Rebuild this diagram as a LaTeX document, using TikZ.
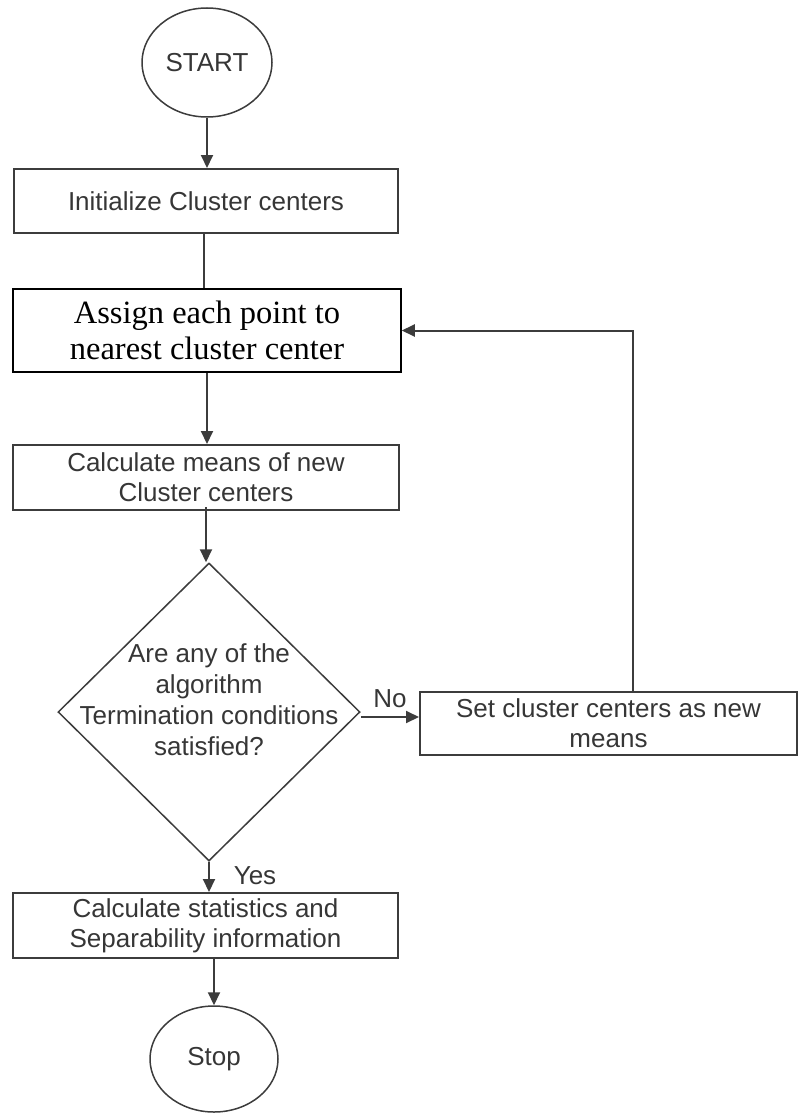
\documentclass[tikz,border=0pt]{standalone}
\usepackage{fontspec}
\setmainfont{Liberation Sans}
\newfontfamily\timesfont{Liberation Serif}
\usetikzlibrary{shapes.geometric,arrows.meta}
\definecolor{inkgray}{HTML}{363636}
\definecolor{linegray}{HTML}{3C3C3C}
\tikzset{
  every node/.style={font=\fontsize{26}{30}\selectfont, text=inkgray},
  procbox/.style={draw=linegray, line width=2pt, rectangle, inner sep=0pt, align=center},
  assignbox/.style={draw=black, line width=1.5pt, rectangle, inner sep=0pt, align=center,
                    text=black, font=\timesfont\fontsize{32.5}{36}\selectfont},
  terminal/.style={draw=linegray, line width=1.5pt, ellipse, inner sep=0pt},
  decision/.style={draw=linegray, line width=1.5pt, diamond, inner sep=0pt},
  conn/.style={draw=linegray, line width=2pt},
  arr/.style={conn, -{Triangle[length=13pt,width=12pt]}},
  lbl/.style={inner sep=0pt}
}
\begin{document}
\begin{tikzpicture}[x=1pt,y=-1pt]
\useasboundingbox (0,0) rectangle (798,1113);
\node[terminal, minimum width=130pt, minimum height=109pt] (start) at (207,62.5) {START};
\node[procbox, minimum width=384pt, minimum height=64pt] (init) at (206,201) {Initialize Cluster centers};
\node[assignbox, minimum width=388pt, minimum height=83pt] (assign) at (207,330.5) {Assign each point to\\nearest cluster center};
\node[procbox, minimum width=386pt, minimum height=65pt] (calc) at (206,477.5) {Calculate means of new\\Cluster centers};
\node[decision, minimum width=302pt, minimum height=298pt] (dec) at (209,712) {};
\node[lbl, align=center, font=\fontsize{26}{31}\selectfont] (dectext) at (209,700) {Are any of the\\algorithm\\Termination conditions\\satisfied?};
\node[procbox, minimum width=377pt, minimum height=63pt] (set) at (608.5,723.5) {Set cluster centers as new\\means};
\node[procbox, minimum width=385pt, minimum height=65pt] (stats) at (205.5,925.5) {Calculate statistics and\\Separability information};
\node[terminal, minimum width=128pt, minimum height=106pt] (stop) at (214,1059) {Stop};
\node[lbl] (nolbl) at (390,699) {No};
\node[lbl] (yeslbl) at (255,876) {Yes};

\coordinate (noStart) at ([yshift=-5pt]dec.east);
\draw[arr] (start.south) -- (start.south |- init.north);
\draw[conn] ([xshift=-2pt]init.south) -- ([xshift=-3pt]assign.north);
\draw[arr] (assign.south) -- (assign.south |- calc.north);
\draw[arr] ([yshift=4pt]calc.south) -- (calc.south |- dec.north);
\draw[arr] (noStart) -- (set.west |- noStart);
\draw[arr] ([xshift=24.5pt]set.north) |- (assign.east);
\draw[arr] (dec.south) -- (dec.south |- stats.north);
\draw[arr] (stats.south -| stop.north) -- (stop.north);
\end{tikzpicture}
\end{document}
